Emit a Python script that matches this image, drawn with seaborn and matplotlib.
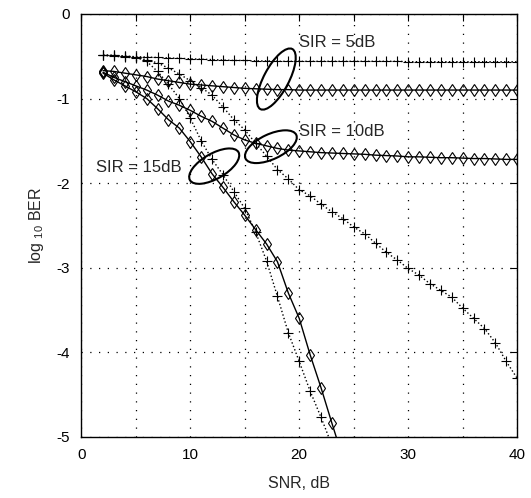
import numpy as np
import pandas as pd
import matplotlib
matplotlib.use("Agg")
import matplotlib.pyplot as plt
import seaborn as sns
from matplotlib.patches import Ellipse
from matplotlib.transforms import ScaledTranslation

sns.set_style("white")
plt.rcParams['font.family'] = ['Liberation Sans', 'DejaVu Sans']
plt.rcParams['mathtext.fontset'] = 'custom'
plt.rcParams['mathtext.rm'] = 'Liberation Sans'
plt.rcParams['mathtext.it'] = 'Liberation Sans'
plt.rcParams['axes.unicode_minus'] = False

# SNR grid (dB)
snr = list(range(2, 41))
snr_15 = list(range(2, 24))
snr_15d = list(range(2, 25))

# log10 BER, '+' = dotted curves, diamond = solid curves
sir5_plus = [-0.485, -0.49, -0.50, -0.505, -0.51, -0.515, -0.52, -0.525, -0.53, -0.535,
             -0.54, -0.545, -0.55, -0.55, -0.555, -0.555, -0.56,
             -0.56, -0.56, -0.56, -0.56, -0.56, -0.56, -0.56, -0.56, -0.56, -0.56, -0.56,
             -0.565, -0.565, -0.565, -0.565, -0.565, -0.565, -0.565, -0.565, -0.565, -0.565, -0.565]
sir5_diam = [-0.67, -0.68, -0.70, -0.72, -0.74, -0.77, -0.79, -0.81, -0.83, -0.84,
             -0.85, -0.86, -0.87, -0.88, -0.885, -0.89, -0.895,
             -0.895, -0.90, -0.90, -0.90, -0.90, -0.90, -0.90, -0.90, -0.90, -0.90, -0.90,
             -0.90, -0.90, -0.90, -0.90, -0.90, -0.90, -0.90, -0.90, -0.90, -0.90, -0.90]
sir10_plus = [-0.49, -0.50, -0.51, -0.52, -0.54, -0.58, -0.64, -0.71, -0.79, -0.87,
              -0.96, -1.10, -1.25, -1.37, -1.53, -1.68, -1.84, -1.95, -2.08, -2.15,
              -2.25, -2.34, -2.42, -2.52, -2.60, -2.71, -2.82, -2.91, -3.01, -3.09,
              -3.19, -3.27, -3.35, -3.48, -3.60, -3.72, -3.89, -4.11, -4.31]
sir10_diam = [-0.69, -0.75, -0.80, -0.85, -0.90, -0.96, -1.03, -1.08, -1.14, -1.21,
              -1.27, -1.35, -1.43, -1.49, -1.53, -1.56, -1.59, -1.61, -1.62, -1.63,
              -1.64, -1.645, -1.65, -1.655, -1.66, -1.67, -1.675, -1.68, -1.69, -1.69,
              -1.695, -1.70, -1.70, -1.705, -1.71, -1.71, -1.715, -1.72, -1.72]
sir15_plus = [-0.49, -0.49, -0.50, -0.51, -0.56, -0.68, -0.83, -1.00, -1.23, -1.50,
              -1.72, -1.90, -2.10, -2.30, -2.58, -2.92, -3.34, -3.77, -4.11, -4.46,
              -4.77, -5.10]
sir15_diam = [-0.70, -0.78, -0.85, -0.92, -1.00, -1.12, -1.25, -1.35, -1.51, -1.69,
              -1.89, -2.05, -2.22, -2.38, -2.55, -2.72, -2.93, -3.30, -3.60, -4.03,
              -4.42, -4.84, -5.25]

x_ticks = [0, 5, 10, 15, 20, 25, 30, 35, 40]
x_labels = ['0', '', '10', '', '20', '', '30', '', '40']
y_ticks = [-5, -4, -3, -2, -1, 0]

fig, ax = plt.subplots(figsize=(5.31, 4.98), dpi=100)
fig.subplots_adjust(left=0.153, right=0.974, top=0.972, bottom=0.123)

series = [
    (snr, sir5_plus, '+', ':'),
    (snr, sir5_diam, 'd', '-'),
    (snr, sir10_plus, '+', ':'),
    (snr, sir10_diam, 'd', '-'),
    (snr_15, sir15_plus, '+', ':'),
    (snr_15d, sir15_diam, 'd', '-'),
]
for xs, ys, mk, ls in series:
    sns.lineplot(x=xs, y=ys, ax=ax, color='black', marker=mk, linestyle=ls,
                 linewidth=1.0, markersize=6.5 if mk == '+' else 6,
                 mec='black', mfc='none', mew=0.8, legend=False)

ax.set_xlim(0, 40)
ax.set_ylim(-5, 0)
ax.set_xticks(x_ticks)
ax.set_xticklabels(x_labels)
ax.set_yticks(y_ticks)
ax.set_yticklabels([str(v) for v in y_ticks])
ax.tick_params(direction='in', top=True, right=True, length=5, width=0.8,
               labelsize=11, pad=8, colors='black')
ax.grid(True, color='black', linestyle=(0, (1, 6)), linewidth=0.9)
for sp in ax.spines.values():
    sp.set_color('black')
    sp.set_linewidth(1.0)

ax.set_xlabel('SNR, dB', fontsize=11.5, labelpad=10)
ax.set_ylabel(r'log $_{10}$ BER', fontsize=11.5, labelpad=8)

# annotations: ellipses (size in inches) and labels
ellipses = [(17.9, -0.77, 0.68, 0.25, 62), (17.4, -1.57, 0.56, 0.25, 25),
            (12.2, -1.80, 0.56, 0.25, 30)]
for xc, yc, w, h, ang in ellipses:
    e = Ellipse((0, 0), w, h, angle=ang, fill=False, edgecolor='black', linewidth=1.5,
                transform=fig.dpi_scale_trans + ScaledTranslation(xc, yc, ax.transData))
    ax.add_patch(e)

ax.text(19.95, -0.34, 'SIR = 5dB', fontsize=12, va='center', ha='left')
ax.text(19.95, -1.385, 'SIR = 10dB', fontsize=12, va='center', ha='left')
ax.text(1.34, -1.82, 'SIR = 15dB', fontsize=12, va='center', ha='left')

fig.savefig('out.png', dpi=100)
